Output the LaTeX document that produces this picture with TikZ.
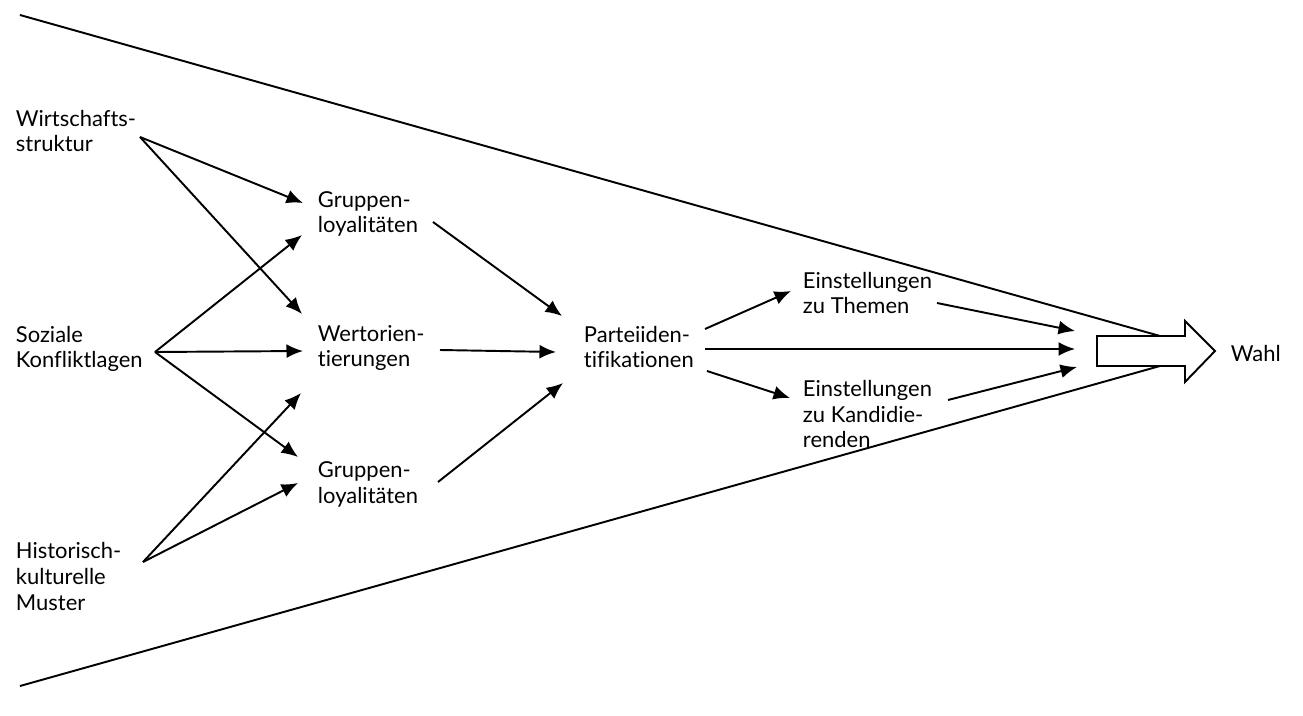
\documentclass[tikz,border=0pt]{standalone}
\usepackage{fontspec}
\setmainfont{Lato}[Ligatures=NoCommon]
\usetikzlibrary{arrows.meta,calc}

\tikzset{
  txt/.style={anchor=base west, align=left, inner sep=0pt},
  pfeil/.style={->, line width=1.1pt}
}

\begin{document}
\begin{tikzpicture}[x=0.02cm, y=-0.02cm, >={Latex[length=3.3mm,width=2.8mm]},
  font=\fontsize{12.5}{14.7}\selectfont, line width=1.1pt]

\useasboundingbox (0,0) rectangle (1303,716);

% Trichter
\draw (20,15) -- (1160,336);
\draw (20,686) -- (1160,366);

% Blockpfeil
\coordinate (bp) at (1097,351);
\draw[fill=white] (bp) ++(0,-15) -- ++(88,0) -- ++(0,-15) -- ++(30,30)
  -- ++(-30,31) -- ++(0,-16) -- ++(-88,0) -- cycle;

% Knoten (Anker: Grundlinie der letzten Zeile)
\node[txt] (ws) at (15,152) {Wirtschafts-\\struktur};
\node[txt] (sk) at (15,368) {Soziale\\Konfliktlagen};
\node[txt] (hk) at (15,610) {Historisch-\\kulturelle\\Muster};
\node[txt] (gl1) at (317,233) {Gruppen-\\loyalitäten};
\node[txt] (wo) at (317,367) {Wertorien-\\tierungen};
\node[txt] (gl2) at (317,503) {Gruppen-\\loyalitäten};
\node[txt] (pi) at (583,368) {Parteiiden-\\tifikationen};
\node[txt] (et) at (802,314) {Einstellungen\\zu Themen};
\node[txt] (ek) at (802,448) {Einstellungen\\zu Kandidie-\\renden};
\node[txt] (wahl) at (1230,362) {Wahl};

% Verbindungen
\draw[pfeil] ($(ws.base west)+(125,-15)$) -- ($(gl1.base west)+(-14,-30)$);
\draw[pfeil] ($(ws.base west)+(125,-15)$) -- ($(wo.base west)+(-15,-53)$);
\draw[pfeil] ($(sk.base west)+(140,-16)$) -- ($(gl1.base west)+(-15,2)$);
\draw[pfeil] ($(sk.base west)+(140,-16)$) -- ($(wo.base west)+(-14,-16)$);
\draw[pfeil] ($(sk.base west)+(140,-16)$) -- ($(gl2.base west)+(-19,-46)$);
\draw[pfeil] ($(hk.base west)+(128,-48)$) -- ($(wo.base west)+(-16,26)$);
\draw[pfeil] ($(hk.base west)+(128,-48)$) -- ($(gl2.base west)+(-19,-20)$);

\draw[pfeil] ($(gl1.base west)+(116,-11)$) -- ($(pi.base west)+(-21,-52)$);
\draw[pfeil] ($(wo.base west)+(123,-17)$) -- ($(pi.base west)+(-27,-16)$);
\draw[pfeil] ($(gl2.base west)+(121,-21)$) -- ($(pi.base west)+(-20,15)$);

\draw[pfeil] ($(pi.base west)+(122,-39)$) -- ($(et.base west)+(-11,-23)$);
\draw[pfeil] ($(pi.base west)+(122,-19)$) -- ($(bp)+(-22,-2)$);
\draw[pfeil] ($(pi.base west)+(124,3)$) -- ($(ek.base west)+(-12,-50)$);

\draw[pfeil] ($(et.base west)+(135,-11)$) -- ($(bp)+(-22,-20)$);
\draw[pfeil] ($(ek.base west)+(146,-48)$) -- ($(bp)+(-20,16)$);

\end{tikzpicture}
\end{document}
